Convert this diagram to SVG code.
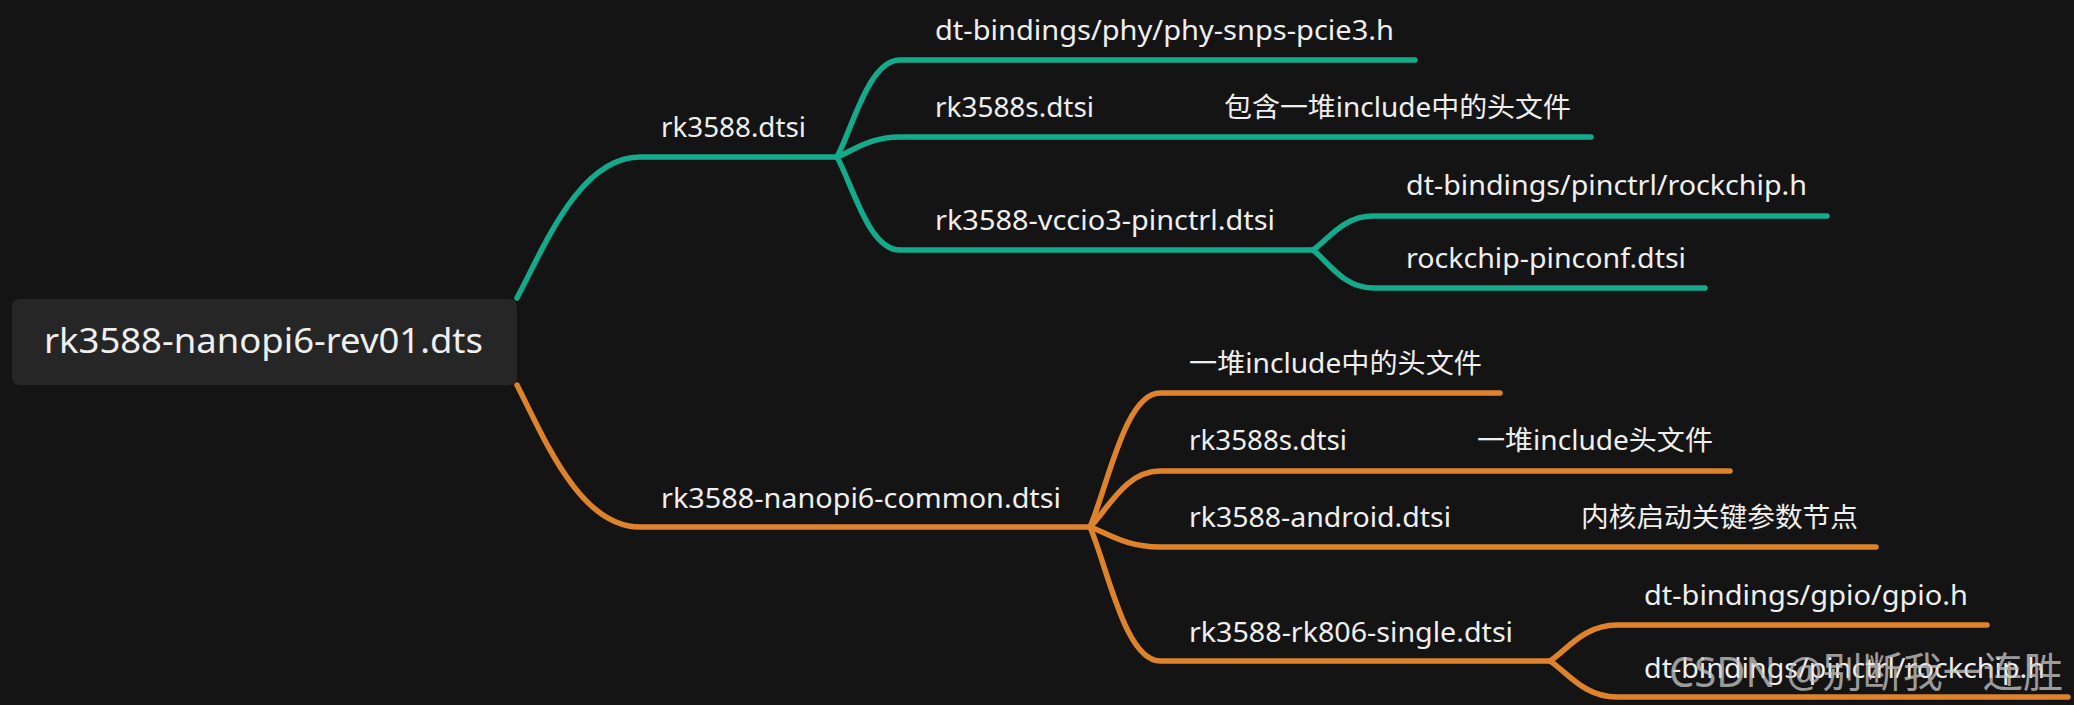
<svg xmlns="http://www.w3.org/2000/svg" width="2074" height="705" viewBox="0 0 2074 705">
<style>
.bg{fill:#141414}
.e{fill:none;stroke-width:5.5;stroke-linecap:round;stroke-linejoin:round}
.t{stroke:#14aa8c}
.o{stroke:#de822b}
.lbl{font-family:"Noto Sans","Noto Sans CJK SC",sans-serif;font-size:27px;fill:#efefef}
.root{font-size:35px}
.wm{font-family:"Noto Sans","Noto Sans CJK SC",sans-serif;font-size:41px;fill:#c8c8c8;fill-opacity:0.75}
</style>
<rect class="bg" x="0" y="0" width="2074" height="705"/>
<g id="connectors">
<path class="e t" d="M517,298 C545,245 580,157 640,157 L837,157"/>
<path class="e t" d="M837,157 C852.75,127.9 868.5,60 900,60 L1415,60"/>
<path class="e t" d="M837,157 C852.75,151 868.5,137 900,137 L1591,137"/>
<path class="e t" d="M837,157 C852.75,185 868.5,250 900,250 L1313,250"/>
<path class="e t" d="M1313,250 C1328,239.8 1343,216 1373,216 L1827,216"/>
<path class="e t" d="M1313,250 C1328,261.4 1343,288 1373,288 L1705,288"/>
<path class="e o" d="M517,385 C545,440 580,527 640,527 L1090,527"/>
<path class="e o" d="M1090,527 C1107.5,486.8 1125,393 1160,393 L1500,393"/>
<path class="e o" d="M1090,527 C1107.5,510.2 1125,471 1160,471 L1730,471"/>
<path class="e o" d="M1090,527 C1107.5,533 1125,547 1160,547 L1876,547"/>
<path class="e o" d="M1090,527 C1107.5,567.2 1125,661 1160,661 L1550,661"/>
<path class="e o" d="M1550,661 C1566.75,650.2 1583.5,625 1617,625 L1987,625"/>
<path class="e o" d="M1550,661 C1566.75,671.8 1583.5,697 1617,697 L2068,697"/>
</g>
<g id="root">
<rect x="12" y="299" width="505" height="86" rx="7" fill="#262626"/>
<text class="lbl root" x="44" y="353" textLength="439" lengthAdjust="spacingAndGlyphs">rk3588-nanopi6-rev01.dts</text>
</g>
<g id="n-rk3588"><text class="lbl" x="661" y="137" textLength="145" lengthAdjust="spacingAndGlyphs">rk3588.dtsi</text></g>
<g id="n-pcie3"><text class="lbl" x="935" y="40" textLength="459" lengthAdjust="spacingAndGlyphs">dt-bindings/phy/phy-snps-pcie3.h</text></g>
<g id="n-rk3588s-a">
<text class="lbl" x="935" y="117" textLength="159" lengthAdjust="spacingAndGlyphs">rk3588s.dtsi</text>
<text class="lbl" x="1224" y="117" textLength="347" lengthAdjust="spacingAndGlyphs">包含一堆include中的头文件</text>
</g>
<g id="n-vccio3"><text class="lbl" x="935" y="230" textLength="340" lengthAdjust="spacingAndGlyphs">rk3588-vccio3-pinctrl.dtsi</text></g>
<g id="n-pinctrl-a"><text class="lbl" x="1406" y="195" textLength="401" lengthAdjust="spacingAndGlyphs">dt-bindings/pinctrl/rockchip.h</text></g>
<g id="n-pinconf"><text class="lbl" x="1406" y="268" textLength="280" lengthAdjust="spacingAndGlyphs">rockchip-pinconf.dtsi</text></g>
<g id="n-common"><text class="lbl" x="661" y="508" textLength="400" lengthAdjust="spacingAndGlyphs">rk3588-nanopi6-common.dtsi</text></g>
<g id="n-includes"><text class="lbl" x="1189" y="373" textLength="293" lengthAdjust="spacingAndGlyphs">一堆include中的头文件</text></g>
<g id="n-rk3588s-b">
<text class="lbl" x="1189" y="450" textLength="158" lengthAdjust="spacingAndGlyphs">rk3588s.dtsi</text>
<text class="lbl" x="1477" y="450" textLength="236" lengthAdjust="spacingAndGlyphs">一堆include头文件</text>
</g>
<g id="n-android">
<text class="lbl" x="1189" y="527" textLength="262" lengthAdjust="spacingAndGlyphs">rk3588-android.dtsi</text>
<text class="lbl" x="1581" y="527" textLength="277" lengthAdjust="spacingAndGlyphs">内核启动关键参数节点</text>
</g>
<g id="n-rk806"><text class="lbl" x="1189" y="642" textLength="324" lengthAdjust="spacingAndGlyphs">rk3588-rk806-single.dtsi</text></g>
<g id="n-gpio"><text class="lbl" x="1644" y="605" textLength="324" lengthAdjust="spacingAndGlyphs">dt-bindings/gpio/gpio.h</text></g>
<g id="n-pinctrl-b"><text class="lbl" x="1644" y="678" textLength="401" lengthAdjust="spacingAndGlyphs">dt-bindings/pinctrl/rockchip.h</text></g>
<text class="wm" x="1669" y="687" textLength="394" lengthAdjust="spacingAndGlyphs">CSDN @别断我一连胜</text>
</svg>
